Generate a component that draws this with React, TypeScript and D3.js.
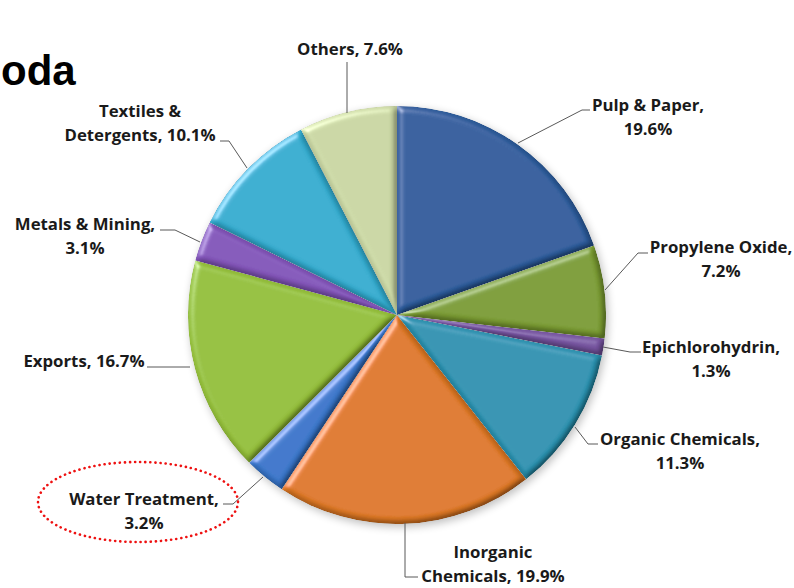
import React from "react";
import * as d3 from "d3";

const categories = [
  "Pulp & Paper",
  "Propylene Oxide",
  "Epichlorohydrin",
  "Organic Chemicals",
  "Inorganic Chemicals",
  "Water Treatment",
  "Exports",
  "Metals & Mining",
  "Textiles & Detergents",
  "Others",
];
const values = [19.6, 7.2, 1.3, 11.3, 19.9, 3.2, 16.7, 3.1, 10.1, 7.6];
const colors = [
  "#2F60A2",
  "#7FA135",
  "#7A57A5",
  "#2C97B6",
  "#E47C26",
  "#3B7AD0",
  "#98C43B",
  "#8657BE",
  "#35B1D5",
  "#CFDCA8",
];
// label text lines
const labelLines = [
  ["Pulp & Paper,", "19.6%"],
  ["Propylene Oxide,", "7.2%"],
  ["Epichlorohydrin,", "1.3%"],
  ["Organic Chemicals,", "11.3%"],
  ["Inorganic", "Chemicals, 19.9%"],
  ["Water Treatment,", "3.2%"],
  ["Exports, 16.7%"],
  ["Metals & Mining,", "3.1%"],
  ["Textiles &", "Detergents, 10.1%"],
  ["Others, 7.6%"],
];
// label anchor (center x, first baseline y)
const labelPos: [number, number][] = [
  [648, 111],
  [721, 253],
  [711, 353],
  [680, 445],
  [493, 558],
  [144, 505],
  [84, 367],
  [85, 230],
  [140, 117],
  [350, 55],
];
// leader line points (label end -> elbow -> pie edge)
const leaders: [number, number][][] = [
  [[590, 110], [582, 110], [518, 143]],
  [[648, 253], [638, 253], [605, 290]],
  [[641, 352], [630, 352], [603, 347]],
  [[598, 444], [588, 444], [575, 427]],
  [[418, 577], [405, 577], [405, 523]],
  [[223, 504], [233, 504], [263, 477]],
  [[147, 367], [190, 367]],
  [[160, 230], [175, 230], [200, 242]],
  [[220, 141], [229, 141], [247, 168]],
  [[347, 62], [347, 113]],
];

const W = 794;
const H = 588;
const cx = 397;
const cy = 315;
const R = 209;

export default function App() {
  const pie = d3
    .pie<number>()
    .sort(null)
    .startAngle(0)
    .endAngle(2 * Math.PI)(values);
  const arc = d3.arc<d3.PieArcDatum<number>>().innerRadius(0).outerRadius(R);
  const line = d3.line();

  return (
    <svg
      width={W}
      height={H}
      style={{ position: "absolute", left: 0, top: 0, background: "#fff" }}
      fontFamily="'Open Sans', Lato, sans-serif"
    >
      <defs>
        <filter id="bevel" x="-10%" y="-10%" width="120%" height="120%">
          <feGaussianBlur in="SourceAlpha" stdDeviation="3" result="blur" />
          <feSpecularLighting
            in="blur"
            surfaceScale="4"
            specularConstant="0.7"
            specularExponent="22"
            lightingColor="#ffffff"
            result="spec"
          >
            <feDistantLight azimuth="225" elevation="32" />
          </feSpecularLighting>
          <feComposite in="spec" in2="SourceAlpha" operator="in" result="specOut" />
          <feDiffuseLighting
            in="blur"
            surfaceScale="4"
            diffuseConstant="1"
            lightingColor="#ffffff"
            result="diff"
          >
            <feDistantLight azimuth="225" elevation="60" />
          </feDiffuseLighting>
          <feComposite in="diff" in2="SourceAlpha" operator="in" result="diffOut" />
          <feComposite
            in="SourceGraphic"
            in2="diffOut"
            operator="arithmetic"
            k1="1.08"
            k2="0"
            k3="0"
            k4="0"
            result="lit"
          />
          <feComposite in="lit" in2="specOut" operator="arithmetic" k1="0" k2="1" k3="0.5" k4="0" />
        </filter>
        <filter id="shadow" x="-10%" y="-10%" width="130%" height="130%">
          <feGaussianBlur in="SourceAlpha" stdDeviation="4" />
          <feOffset dx="2" dy="3" result="ob" />
          <feComponentTransfer>
            <feFuncA type="linear" slope="0.25" />
          </feComponentTransfer>
        </filter>
      </defs>

      <text
        x={1}
        y={85}
        textAnchor="start"
        fontFamily="Arial, 'Liberation Sans', sans-serif"
        fontWeight="bold"
        fontSize={42}
        fill="#000"
      >
        oda
      </text>

      <g transform={`translate(${cx},${cy})`}>
        <circle r={R} fill="#000" filter="url(#shadow)" />
        {pie.map((d, i) => (
          <path
            key={categories[i]}
            d={arc(d) || ""}
            fill={colors[i]}
            filter="url(#bevel)"
          />
        ))}
      </g>

      {leaders.map((pts, i) => (
        <path
          key={"l" + i}
          d={line(pts) || ""}
          fill="none"
          stroke="#595959"
          strokeWidth={1}
        />
      ))}

      {labelLines.map((lines, i) => (
        <text
          key={"t" + i}
          x={labelPos[i][0]}
          y={labelPos[i][1]}
          textAnchor="middle"
          fontWeight="bold"
          fontSize={16.8}
          fill="#1a1a1a"
        >
          {lines.map((s, j) => (
            <tspan key={j} x={labelPos[i][0]} dy={j === 0 ? 0 : 24}>
              {s}
            </tspan>
          ))}
        </text>
      ))}

      <ellipse
        cx={138}
        cy={502}
        rx={100}
        ry={40}
        fill="none"
        stroke="#ee1111"
        strokeWidth={2.6}
        strokeDasharray="0.1 5"
        strokeLinecap="round"
      />
    </svg>
  );
}
